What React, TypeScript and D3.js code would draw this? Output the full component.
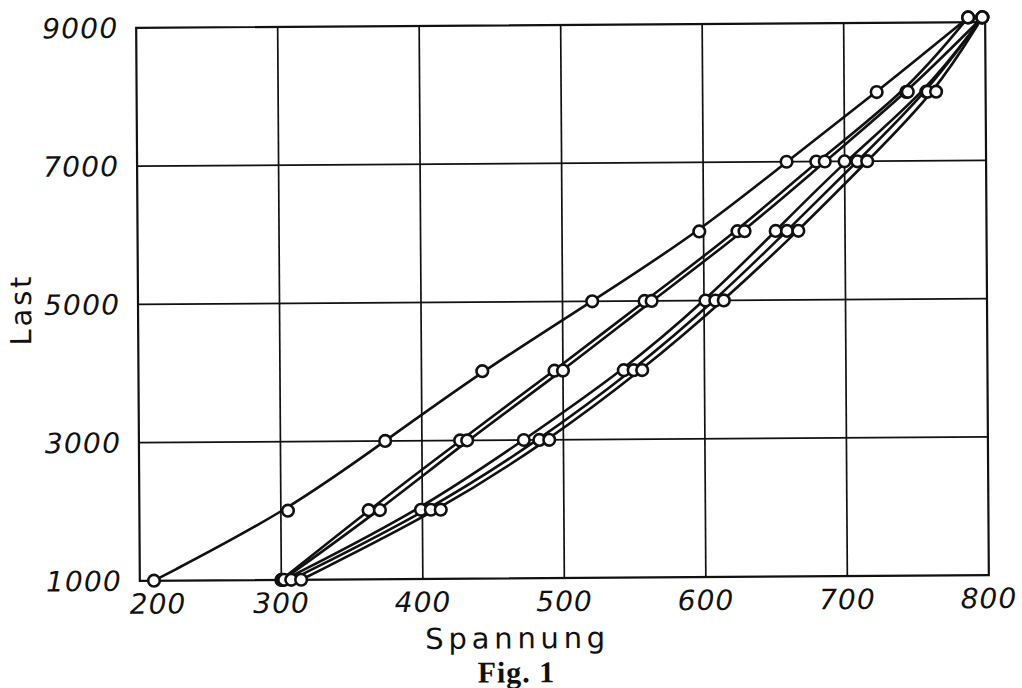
import { useEffect, useRef } from "react";
import * as d3 from "d3";

// Last (load) levels at which readings were taken
const LOADS = [1000, 2000, 3000, 4000, 5000, 6000, 7000, 8000, 9070];

// Spannung readings per curve, one value per load level
const SPANNUNG_A = [210, 305, 374, 443, 521, 597, 659, 723, 788];
const SPANNUNG_B = [300, 362, 427, 494, 558, 624, 680, 744, 788];
const SPANNUNG_C = [301, 370, 432, 500, 563, 629, 686, 745, 798];
const SPANNUNG_D = [302, 399, 472, 543, 601, 651, 700, 758, 798];
const SPANNUNG_E = [307, 406, 483, 550, 608, 659, 709, 759, 798];
const SPANNUNG_F = [314, 413, 490, 556, 614, 667, 716, 765, 798];

const CURVES = [SPANNUNG_A, SPANNUNG_B, SPANNUNG_C, SPANNUNG_D, SPANNUNG_E, SPANNUNG_F];

// Axis ticks
const X_TICKS = [200, 300, 400, 500, 600, 700, 800];
const Y_TICKS = [1000, 3000, 5000, 7000, 9000];

const INK = "#111";

export default function App() {
	const ref = useRef<SVGSVGElement>(null);

	useEffect(() => {
		if (!ref.current) return;
		const svg = d3.select(ref.current);
		svg.selectAll("*").remove();

		// Plot box in pixels
		const left = 138, right = 987, top = 25, bottom = 578;

		const x = d3.scaleLinear().domain([200, 800]).range([left, right]);
		const y = d3.scaleLinear().domain([1000, 9000]).range([bottom, top]);

		// the printed figure sits slightly tilted on the page
		const g = svg.append("g")
			.attr("transform", "rotate(-0.38, 562, 302)");

		// Grid
		g.append("g")
			.selectAll("line")
			.data(X_TICKS.slice(1, -1))
			.enter()
			.append("line")
			.attr("x1", d => x(d))
			.attr("x2", d => x(d))
			.attr("y1", top)
			.attr("y2", bottom)
			.attr("stroke", INK)
			.attr("stroke-width", 1.7);

		g.append("g")
			.selectAll("line")
			.data(Y_TICKS.slice(1, -1))
			.enter()
			.append("line")
			.attr("x1", left)
			.attr("x2", right)
			.attr("y1", d => y(d))
			.attr("y2", d => y(d))
			.attr("stroke", INK)
			.attr("stroke-width", 1.7);

		// Frame
		g.append("rect")
			.attr("x", left)
			.attr("y", top)
			.attr("width", right - left)
			.attr("height", bottom - top)
			.attr("fill", "none")
			.attr("stroke", INK)
			.attr("stroke-width", 2.2);

		// Curves
		const line = d3.line<number>()
			.x(d => x(d))
			.y((_, i) => y(LOADS[i]))
			.curve(d3.curveBasis);

		g.append("g")
			.selectAll("path")
			.data(CURVES)
			.enter()
			.append("path")
			.attr("d", d => line(d))
			.attr("fill", "none")
			.attr("stroke", INK)
			.attr("stroke-width", 2.6);

		// Measured points
		const points = CURVES.flatMap(c => c.map((v, i) => ({ v, load: LOADS[i] })));
		g.append("g")
			.selectAll("circle")
			.data(points)
			.enter()
			.append("circle")
			.attr("cx", d => x(d.v))
			.attr("cy", d => y(d.load))
			.attr("r", 5.8)
			.attr("fill", "#fff")
			.attr("stroke", INK)
			.attr("stroke-width", 2.6);

		// Y tick labels
		g.append("g")
			.selectAll("text")
			.data(Y_TICKS)
			.enter()
			.append("text")
			.attr("x", 119)
			.attr("y", d => y(d) + 10)
			.attr("text-anchor", "end")
			.attr("textLength", 75)
			.attr("lengthAdjust", "spacing")
			.attr("font-family", "DejaVu Sans")
			.attr("font-style", "italic")
			.attr("font-size", 28)
			.attr("fill", INK)
			.text(d => d);

		// X tick labels (200 pushed right to clear the 1000 label)
		g.append("g")
			.selectAll("text")
			.data(X_TICKS)
			.enter()
			.append("text")
			.attr("x", d => (d === 200 ? x(d) + 18 : x(d)))
			.attr("y", 611)
			.attr("text-anchor", "middle")
			.attr("font-family", "DejaVu Sans")
			.attr("font-style", "italic")
			.attr("font-size", 28)
			.attr("letter-spacing", 1)
			.attr("fill", INK)
			.text(d => d);

		// Axis titles
		g.append("text")
			.attr("x", 423)
			.attr("y", 648)
			.attr("textLength", 180)
			.attr("lengthAdjust", "spacing")
			.attr("font-family", "DejaVu Sans")
			.attr("font-size", 29)
			.attr("fill", INK)
			.text("Spannung");

		g.append("text")
			.attr("transform", "translate(31, 342) rotate(-90)")
			.attr("textLength", 69)
			.attr("lengthAdjust", "spacing")
			.attr("font-family", "DejaVu Sans")
			.attr("font-size", 29)
			.attr("fill", INK)
			.text("Last");

		// Caption
		g.append("text")
			.attr("x", 514)
			.attr("y", 682)
			.attr("text-anchor", "middle")
			.attr("font-family", "Liberation Serif")
			.attr("font-weight", "bold")
			.attr("font-size", 30)
			.attr("letter-spacing", 1)
			.attr("fill", INK)
			.text("Fig. 1");
	}, []);

	return (
		<svg
			ref={ref}
			width={1022}
			height={688}
			style={{ position: "absolute", left: 0, top: 0, background: "#fff" }}
		/>
	);
}
